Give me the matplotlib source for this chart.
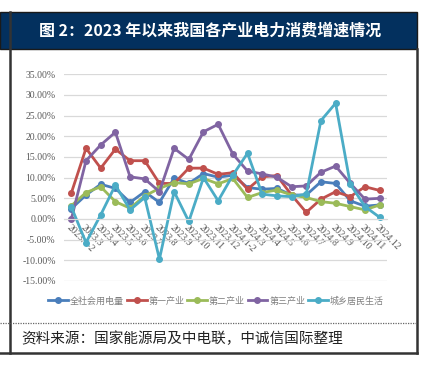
import numpy as np
import matplotlib.pyplot as plt
from matplotlib.lines import Line2D
from matplotlib.patches import Rectangle

plt.rcParams['font.family'] = ['Noto Sans CJK SC', 'DejaVu Sans']

# categories
months = ['2023.1-2', '2023.3', '2023.4', '2023.5', '2023.6', '2023.7', '2023.8',
          '2023.9', '2023.10', '2023.11', '2023.12', '2024.1-2', '2024.3', '2024.4',
          '2024.5', '2024.6', '2024.7', '2024.8', '2024.9', '2024.10', '2024.11', '2024.12']

# growth rates (%)
total = [2.5, 5.8, 8.4, 7.4, 4.0, 6.6, 4.0, 9.9, 8.6, 11.0, 10.1, 10.6,
         7.6, 7.2, 7.4, 5.8, 5.8, 9.0, 8.6, 4.4, 3.1, 3.4]
primary = [6.3, 17.1, 12.3, 16.9, 14.1, 14.1, 8.6, 8.6, 12.3, 12.3, 10.8, 11.2,
           7.2, 10.2, 10.5, 5.8, 1.6, 4.8, 6.6, 5.4, 7.8, 6.9]
secondary = [3.2, 6.4, 7.8, 4.2, 2.6, 5.6, 7.4, 8.8, 8.5, 9.8, 8.5, 9.8,
             5.2, 6.4, 7.0, 5.8, 5.2, 4.2, 3.8, 3.0, 2.2, 3.4]
tertiary = [0.0, 14.1, 17.9, 21.0, 10.2, 9.7, 6.6, 17.1, 14.4, 21.1, 22.9, 15.7,
            11.6, 10.9, 10.1, 7.8, 8.0, 11.3, 12.8, 8.6, 4.8, 5.0]
residential = [2.9, -5.7, 1.0, 8.2, 2.2, 5.2, -9.7, 6.6, -0.6, 10.0, 4.4, 10.6,
               15.9, 6.0, 5.6, 5.4, 6.0, 23.8, 28.0, 8.4, 3.0, 0.4]

series = [('全社会用电量', total, '#4a7ebb'),
          ('第一产业', primary, '#c0504d'),
          ('第二产业', secondary, '#9bbb59'),
          ('第三产业', tertiary, '#8064a2'),
          ('城乡居民生活', residential, '#4bacc6')]

W, H = 430, 369
fig = plt.figure(figsize=(W / 100, H / 100), dpi=100)

def fx(px):
    return px / W

def fy(py):
    return 1 - py / H

# header band
fig.add_artist(Rectangle((0, fy(49)), fx(417), (49 - 12) / H, transform=fig.transFigure,
                         facecolor='#03305e', edgecolor='#1a1a1a', lw=1.0))
fig.text(fx(210), fy(31), '图 2：2023 年以来我国各产业电力消费增速情况', color='white',
         fontsize=11.5, fontweight='bold', ha='center', va='center')

# frame lines
fig.add_artist(Line2D([fx(10), fx(10)], [fy(12), fy(353)], color='#333333', lw=1.8))
fig.add_artist(Line2D([fx(417), fx(417)], [fy(49), fy(353)], color='#333333', lw=1.8))
fig.add_artist(Line2D([0, fx(417)], [fy(353), fy(353)], color='#333333', lw=1.8))
fig.add_artist(Line2D([0, fx(417)], [fy(323), fy(323)], color='#666666', lw=0.9, ls=(0, (1, 1))))

fig.text(fx(21), fy(339), '资料来源：国家能源局及中电联，中诚信国际整理', color='#222222',
         fontsize=10.5, style='italic', ha='left', va='center')

# chart
ax = fig.add_axes([fx(64), fy(281), fx(387 - 64), (281 - 74.3) / H])
x = np.arange(len(months))
for name, vals, col in series:
    ax.plot(x, vals, color=col, lw=2.0, marker='o', markersize=4, label=name)

ax.set_xlim(-0.5, len(months) - 0.5)
ax.set_ylim(-15, 35)
ax.set_yticks(np.arange(-15, 36, 5))
ax.set_yticklabels(['%.2f%%' % v for v in np.arange(-15, 36, 5)],
                   fontfamily='Liberation Serif', fontsize=7, color='#595959')
ax.grid(axis='y', color='#d9d9d9', lw=0.9)
ax.set_axisbelow(True)
for s in ['top', 'right', 'left']:
    ax.spines[s].set_visible(False)
ax.spines['bottom'].set_position(('data', 0))
ax.spines['bottom'].set_color('#d9d9d9')
ax.tick_params(length=0)
ax.tick_params(axis='y', pad=6)
ax.set_xticks(x)
ax.set_xticklabels(months, rotation=-45, ha='left', va='top', rotation_mode='anchor',
                   fontfamily='Liberation Serif', fontsize=7, color='#595959')
ax.tick_params(axis='x', pad=3)

handles = [Line2D([], [], color=c, lw=2.0, marker='o', markersize=4) for _, _, c in series]
fig.legend(handles, [n for n, _, _ in series], loc='center', bbox_to_anchor=(fx(216), fy(301)),
           ncol=5, frameon=False, fontsize=6.5, handlelength=2.2, handletextpad=0.2,
           columnspacing=0.3, labelcolor='#7f7f7f')

fig.savefig('out.png', dpi=100)
